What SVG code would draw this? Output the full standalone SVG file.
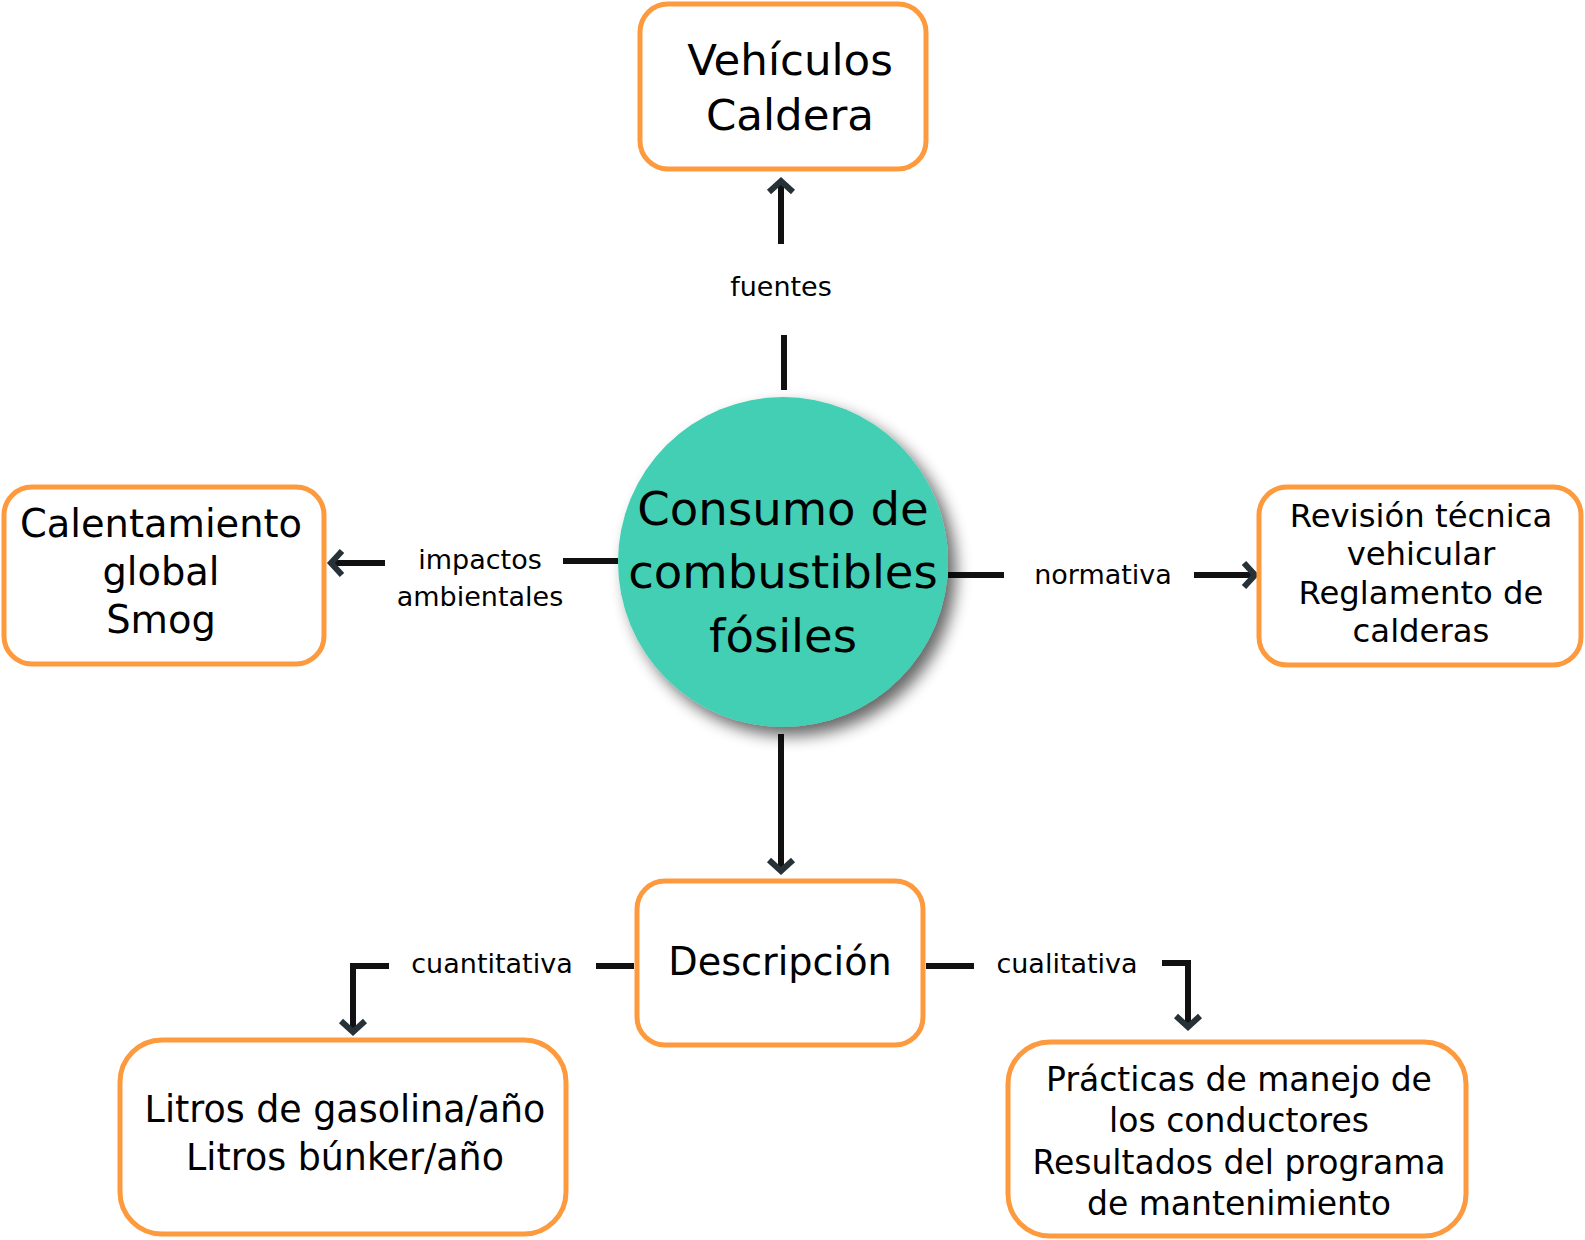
<svg xmlns="http://www.w3.org/2000/svg" width="1585" height="1240" viewBox="0 0 1585 1240">
<style>
.box{fill:#ffffff;stroke:#FD9A3E;stroke-width:5}
.t{font-family:"DejaVu Sans","Verdana",sans-serif;fill:#000;text-anchor:middle}
.lbl{font-size:27px}
.ln{fill:none;stroke:#111111;stroke-width:6}
.arr{fill:none;stroke:#111111;stroke-width:6;marker-end:url(#ah)}
</style>
<defs>
<marker id="ah" markerUnits="userSpaceOnUse" viewBox="-20 -20 30 40" refX="0" refY="0" markerWidth="30" markerHeight="40" orient="auto" overflow="visible">
<path d="M-12,-12 L-1,0 L-12,12" fill="none" stroke="#263238" stroke-width="6"/>
</marker>
<filter id="sh" x="-20%" y="-20%" width="150%" height="150%">
<feGaussianBlur in="SourceAlpha" stdDeviation="8"/>
<feOffset dx="8" dy="9" result="b"/>
<feComponentTransfer><feFuncA type="linear" slope="0.6"/></feComponentTransfer>
<feMerge><feMergeNode/><feMergeNode in="SourceGraphic"/></feMerge>
</filter>
</defs>

<g id="connectors">
<line class="ln" x1="784" y1="390" x2="784" y2="335"/>
<line class="arr" x1="781" y1="244" x2="781" y2="180"/>
<text class="t lbl" x="781" y="296">fuentes</text>
<line class="ln" x1="618" y1="561" x2="563" y2="561"/>
<line class="arr" x1="385" y1="563" x2="330" y2="563"/>
<text class="t lbl" x="480" y="569">impactos</text>
<text class="t lbl" x="480" y="606">ambientales</text>
<line class="ln" x1="948" y1="575" x2="1004" y2="575"/>
<line class="arr" x1="1194" y1="575" x2="1256" y2="575"/>
<text class="t lbl" x="1103" y="584">normativa</text>
<line class="arr" x1="781" y1="734" x2="781" y2="872"/>
<line class="ln" x1="634" y1="966" x2="596" y2="966"/>
<polyline class="arr" points="389,966 353,966 353,1033"/>
<text class="t lbl" x="492" y="973">cuantitativa</text>
<line class="ln" x1="926" y1="966" x2="974" y2="966"/>
<polyline class="arr" points="1162,963 1188,963 1188,1028"/>
<text class="t lbl" x="1067" y="973">cualitativa</text>
</g>

<g id="node-center">
<circle cx="783" cy="562" r="165" fill="#43CFB4" filter="url(#sh)"/>
<text class="t" font-size="46.6" x="783" y="525">Consumo de</text>
<text class="t" font-size="46.6" x="783" y="588">combustibles</text>
<text class="t" font-size="46.6" x="783" y="652">fósiles</text>
</g>

<g id="node-fuentes">
<rect class="box" x="640" y="4" width="286" height="165" rx="28"/>
<text class="t" font-size="43.5" x="790" y="75">Vehículos</text>
<text class="t" font-size="43.5" x="790" y="130">Caldera</text>
</g>

<g id="node-impactos">
<rect class="box" x="4" y="487" width="320" height="177" rx="28"/>
<text class="t" font-size="38.4" x="161" y="537">Calentamiento</text>
<text class="t" font-size="38.4" x="161" y="585">global</text>
<text class="t" font-size="38.4" x="161" y="633">Smog</text>
</g>

<g id="node-normativa">
<rect class="box" x="1259" y="487" width="322" height="178" rx="28"/>
<text class="t" font-size="32.3" x="1421" y="527">Revisión técnica</text>
<text class="t" font-size="32.3" x="1421" y="565">vehicular</text>
<text class="t" font-size="32.3" x="1421" y="604">Reglamento de</text>
<text class="t" font-size="32.3" x="1421" y="642">calderas</text>
</g>

<g id="node-descripcion">
<rect class="box" x="637" y="881" width="286" height="164" rx="28"/>
<text class="t" font-size="38.2" x="780" y="975">Descripción</text>
</g>

<g id="node-cuantitativa">
<rect class="box" x="120" y="1040" width="446" height="194" rx="42"/>
<text class="t" font-size="36.4" x="345" y="1122">Litros de gasolina/año</text>
<text class="t" font-size="36.4" x="345" y="1170">Litros búnker/año</text>
</g>

<g id="node-cualitativa">
<rect class="box" x="1008" y="1042" width="458" height="194" rx="42"/>
<text class="t" font-size="33" x="1239" y="1091">Prácticas de manejo de</text>
<text class="t" font-size="33" x="1239" y="1132">los conductores</text>
<text class="t" font-size="33" x="1239" y="1174">Resultados del programa</text>
<text class="t" font-size="33" x="1239" y="1215">de mantenimiento</text>
</g>
</svg>
